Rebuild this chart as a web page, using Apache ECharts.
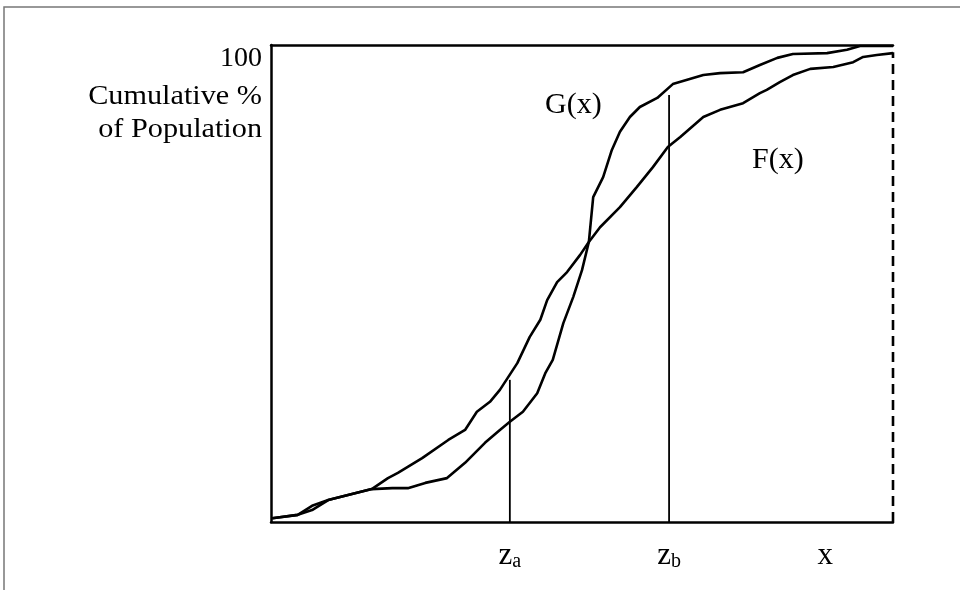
<!DOCTYPE html>
<html>
<head>
<meta charset="utf-8">
<script src="https://cdn.jsdelivr.net/npm/echarts@6/dist/echarts.min.js"></script>
<style>html,body{margin:0;padding:0;background:#fff}#c{width:960px;height:590px}</style>
</head>
<body>
<div id="c"></div>
<script>
// Cumulative distribution F(x)
const fX = [0.2, 4.3, 6.6, 9.2, 16.2, 18.8, 20.4, 24.3, 28.5, 31.2, 33.1, 35.2, 36.8, 39.6, 41.6, 43.3, 44.4, 46.0, 47.6, 49.7, 51.1, 52.9, 56.1, 58.8, 61.4, 63.8, 65.8, 69.5, 72.2, 75.9, 78.6, 79.7, 81.8, 83.9, 86.7, 90.4, 93.6, 95.2, 97.4, 100];
const fY = [0.8, 1.5, 3.4, 4.6, 6.9, 9.2, 10.3, 13.4, 17.2, 19.3, 23.1, 25.2, 27.7, 33.3, 38.8, 42.4, 46.5, 50.3, 52.4, 56.0, 58.7, 61.8, 66.0, 70.2, 74.4, 78.6, 80.7, 84.9, 86.4, 87.8, 89.9, 90.6, 92.2, 93.7, 95.0, 95.4, 96.4, 97.5, 97.9, 98.3];
// Cumulative distribution G(x)
const gX = [0.2, 4.3, 6.6, 9.2, 16.2, 19.5, 22.0, 24.8, 28.3, 31.2, 34.4, 36.8, 38.4, 40.5, 42.8, 44.1, 45.3, 47.0, 48.6, 50.0, 51.1, 51.8, 53.4, 54.8, 56.1, 57.7, 59.3, 62.1, 64.6, 69.5, 72.2, 75.9, 78.6, 81.4, 83.9, 89.4, 92.6, 94.7, 100];
const gY = [0.8, 1.5, 2.5, 4.6, 6.9, 7.1, 7.1, 8.2, 9.2, 12.4, 16.6, 19.3, 21.0, 23.1, 27.0, 31.2, 34.0, 41.7, 47.2, 52.8, 58.7, 68.1, 72.3, 78.0, 81.8, 84.9, 87.0, 88.9, 91.8, 93.7, 94.1, 94.3, 95.8, 97.3, 98.1, 98.3, 99.0, 99.8, 99.8];
// Marked thresholds on the x axis
const zA = 38.4, zAtop = 29.8;
const zB = 64.0, zBtop = 89.5;
const xEnd = 100, xEndTop = 98.5;
const tickValues = [38.4, 64.0, 89.1];
const tickMain = ['z', 'z', 'x'];
const tickSub = ['a', 'b', ''];

const pairs = (xs, ys) => xs.map((v, i) => [v, ys[i]]);
const serif = 'Liberation Serif, Times New Roman, serif';

const chart = echarts.init(document.getElementById('c'));
const leftText = (txt, y, size, sx) => ({
  type: 'text', x: 262, y: y, scaleX: sx,
  style: {text: txt, font: size + 'px ' + serif, fill: '#000', textAlign: 'right', textVerticalAlign: 'middle'}
});
chart.setOption({
  animation: false,
  grid: {left: 271, top: 45, right: 67, bottom: 68},
  xAxis: [{
    type: 'value', min: 0, max: 100, position: 'bottom',
    axisLine: {show: true, lineStyle: {color: '#000', width: 2.5}},
    axisTick: {show: false}, splitLine: {show: false},
    axisLabel: {
      show: true, margin: 18, customValues: tickValues,
      fontFamily: serif, fontSize: 31, color: '#000',
      formatter: function (v) {
        const i = tickValues.indexOf(v);
        if (i < 0) return '';
        return '{m|' + tickMain[i] + '}' + (tickSub[i] ? '{s|' + tickSub[i] + '}' : '');
      },
      rich: {
        m: {fontFamily: serif, fontSize: 31, fontWeight: 'normal', color: '#000'},
        s: {fontFamily: serif, fontSize: 20, fontWeight: 'normal', color: '#000', padding: [12, 0, 0, 0]}
      }
    }
  }, {
    type: 'value', min: 0, max: 100, position: 'top',
    axisLine: {show: true, onZero: false, lineStyle: {color: '#000', width: 2.5}},
    axisTick: {show: false}, axisLabel: {show: false}, splitLine: {show: false}
  }],
  yAxis: {
    type: 'value', min: 0, max: 100,
    axisLine: {show: true, lineStyle: {color: '#000', width: 2.5}},
    axisTick: {show: false}, axisLabel: {show: false}, splitLine: {show: false}
  },
  series: [
    {name: 'F(x)', type: 'line', data: pairs(fX, fY), showSymbol: false, symbol: 'none',
     lineStyle: {color: '#000', width: 2.6}, z: 3},
    {name: 'G(x)', type: 'line', data: pairs(gX, gY), showSymbol: false, symbol: 'none',
     lineStyle: {color: '#000', width: 2.6}, z: 3},
    {type: 'line', data: [[zA, 0], [zA, zAtop]], symbol: 'none', lineStyle: {color: '#000', width: 1.8}},
    {type: 'line', data: [[zB, 0], [zB, zBtop]], symbol: 'none', lineStyle: {color: '#000', width: 1.8}},
    {type: 'line', data: [[xEnd, 0], [xEnd, xEndTop]], symbol: 'none',
     lineStyle: {color: '#000', width: 2.6, type: [10, 6]}}
  ],
  graphic: [
    {type: 'rect', shape: {x: 4, y: 7, width: 1000, height: 1000}, style: {fill: 'none', stroke: '#777', lineWidth: 1.5}, silent: true},
    leftText('100', 59, 28, 1.0),
    leftText('Cumulative %', 97, 27, 1.12),
    leftText('of Population', 130, 27, 1.12),
    {type: 'text', x: 545, y: 105, style: {text: 'G(x)', font: '30px ' + serif, fill: '#000', textVerticalAlign: 'middle'}},
    {type: 'text', x: 752, y: 160, style: {text: 'F(x)', font: '30px ' + serif, fill: '#000', textVerticalAlign: 'middle'}}
  ]
});
</script>
</body>
</html>
